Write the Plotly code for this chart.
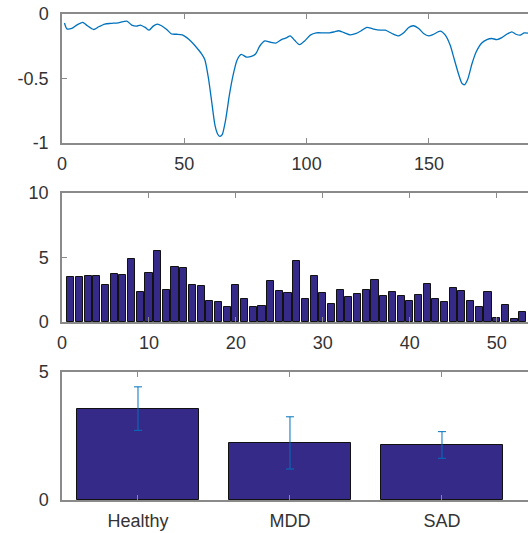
import plotly.graph_objects as go

# ---- Top panel: signal trace ----
trace_x = [1, 2, 4, 6, 8.5, 10, 13, 15, 17.5, 20, 23, 26.5, 28.5, 30.5, 32, 34, 35.6, 37.3, 39, 40.7,
           42.8, 44.8, 47, 49.2, 51, 53, 55, 57, 58.4, 59.8, 61.2, 62.5, 63.6, 64.5, 65.5, 66.8, 68.5,
           69.9, 71.5, 73.3, 75.4, 77.4, 79.2, 80.8, 82.9, 84.9, 87.4, 89.7, 91.7, 93.3, 95.1, 97.1,
           99.2, 101.5, 103.9, 106.7, 109.4, 111.4, 113.2, 115.5, 117.8, 120.3, 122.3, 124.6, 127.4,
           130.1, 132.2, 134.9, 137.6, 139.7, 141.7, 143.7, 145.8, 147.8, 149.9, 151.9, 154.6, 156.7,
           158.7, 160.3, 162.1, 163.5, 164.6, 165.9, 167.6, 169.3, 171.6, 173.7, 175.7, 177.8, 179.8,
           181.8, 183.9, 185.6, 187.3, 189, 191]
trace_y = [-0.07, -0.115, -0.112, -0.086, -0.065, -0.086, -0.12, -0.099, -0.078, -0.073, -0.068, -0.055,
           -0.086, -0.094, -0.086, -0.104, -0.125, -0.094, -0.078, -0.091, -0.12, -0.155, -0.157, -0.162,
           -0.183, -0.217, -0.26, -0.308, -0.355, -0.49, -0.68, -0.86, -0.93, -0.948, -0.935, -0.83, -0.62,
           -0.478, -0.36, -0.313, -0.334, -0.329, -0.308, -0.25, -0.209, -0.217, -0.225, -0.198, -0.185,
           -0.17, -0.204, -0.238, -0.209, -0.164, -0.146, -0.146, -0.146, -0.138, -0.13, -0.146, -0.162,
           -0.151, -0.13, -0.104, -0.117, -0.125, -0.125, -0.151, -0.17, -0.146, -0.104, -0.091, -0.112,
           -0.151, -0.17, -0.157, -0.133, -0.164, -0.243, -0.347, -0.465, -0.538, -0.548, -0.504, -0.386,
           -0.295, -0.225, -0.198, -0.19, -0.198, -0.183, -0.157, -0.138, -0.157, -0.164, -0.146, -0.15]

# ---- Middle panel: per-item bars ----
item_values = [3.52, 3.52, 3.6, 3.57, 2.9, 3.76, 3.65, 4.92, 2.33, 3.81, 5.47, 2.46, 4.25, 4.17, 2.88,
               2.8, 1.6, 1.55, 1.19, 2.88, 1.81, 1.19, 1.27, 3.21, 2.41, 2.25, 4.74, 1.79, 3.57, 2.25,
               1.42, 2.51, 1.97, 2.18, 2.46, 3.24, 2.02, 2.31, 2.05, 1.63, 2.1, 2.93, 1.79, 1.55, 2.64,
               2.38, 1.6, 1.17, 2.31, 0.31, 1.35, 0.26, 0.8]
item_index = list(range(1, len(item_values) + 1))

# ---- Bottom panel: group means with error bars ----
groups = ["Healthy", "MDD", "SAD"]
group_means = [3.57, 2.23, 2.15]
group_err = [0.85, 1.02, 0.52]

BAR = "#352A87"
LINE = "#0072BD"
AX = "#8a8a8a"
TXT = "#333333"
FONT = dict(family="Liberation Sans, Arial, sans-serif", size=18, color=TXT)

fig = go.Figure()
fig.add_trace(go.Scatter(x=trace_x, y=trace_y, mode="lines",
                         line=dict(color=LINE, width=1.3, shape="spline", smoothing=0.6),
                         xaxis="x", yaxis="y", showlegend=False))
fig.add_trace(go.Bar(x=item_index, y=item_values, width=0.82,
                     marker=dict(color=BAR, line=dict(color="#111111", width=1)),
                     xaxis="x2", yaxis="y2", showlegend=False))
fig.add_trace(go.Bar(x=[1, 2, 3], y=group_means, width=0.8,
                     marker=dict(color=BAR, line=dict(color="#111111", width=1)),
                     error_y=dict(type="data", array=group_err, color=LINE, thickness=1, width=4),
                     xaxis="x3", yaxis="y3", showlegend=False))

H = 533.0
def dom(top_px, bot_px):
    return [(H - bot_px) / H, (H - top_px) / H]

common_x = dict(showline=True, linecolor=AX, linewidth=1.5, mirror="ticks", ticks="inside",
                ticklen=5, tickcolor=AX, tickwidth=1, showgrid=False, zeroline=False,
                tickfont=FONT, ticklabelstandoff=4, automargin=False)
common_y = dict(showline=True, linecolor=AX, linewidth=1.5, mirror=False, ticks="inside",
                ticklen=5, tickcolor=AX, tickwidth=1, showgrid=False, zeroline=False,
                tickfont=FONT, ticklabelstandoff=8, automargin=False)

fig.update_layout(
    width=528, height=533,
    margin=dict(l=62, r=0, t=0, b=0),
    paper_bgcolor="white", plot_bgcolor="white",
    xaxis=dict(domain=[0, 1], anchor="y", range=[0, 190.5], tickvals=[0, 50, 100, 150, 200], **common_x),
    yaxis=dict(domain=dom(14, 143), anchor="x", range=[-1, 0], tickvals=[-1, -0.5, 0],
               ticktext=["-1", "-0.5", "0"], **common_y),
    xaxis2=dict(domain=[0, 1], anchor="y2", range=[0, 53.6], tickvals=[0, 10, 20, 30, 40, 50, 60], **common_x),
    yaxis2=dict(domain=dom(193, 322), anchor="x2", range=[0, 10], tickvals=[0, 5, 10], **common_y),
    xaxis3=dict(domain=[0, 1], anchor="y3", range=[0.5, 3.566], tickvals=[1, 2, 3], ticktext=groups, **common_x),
    yaxis3=dict(domain=dom(372, 500), anchor="x3", range=[0, 5], tickvals=[0, 5], **common_y),
    bargap=0,
)

fig.write_html("out.html")
